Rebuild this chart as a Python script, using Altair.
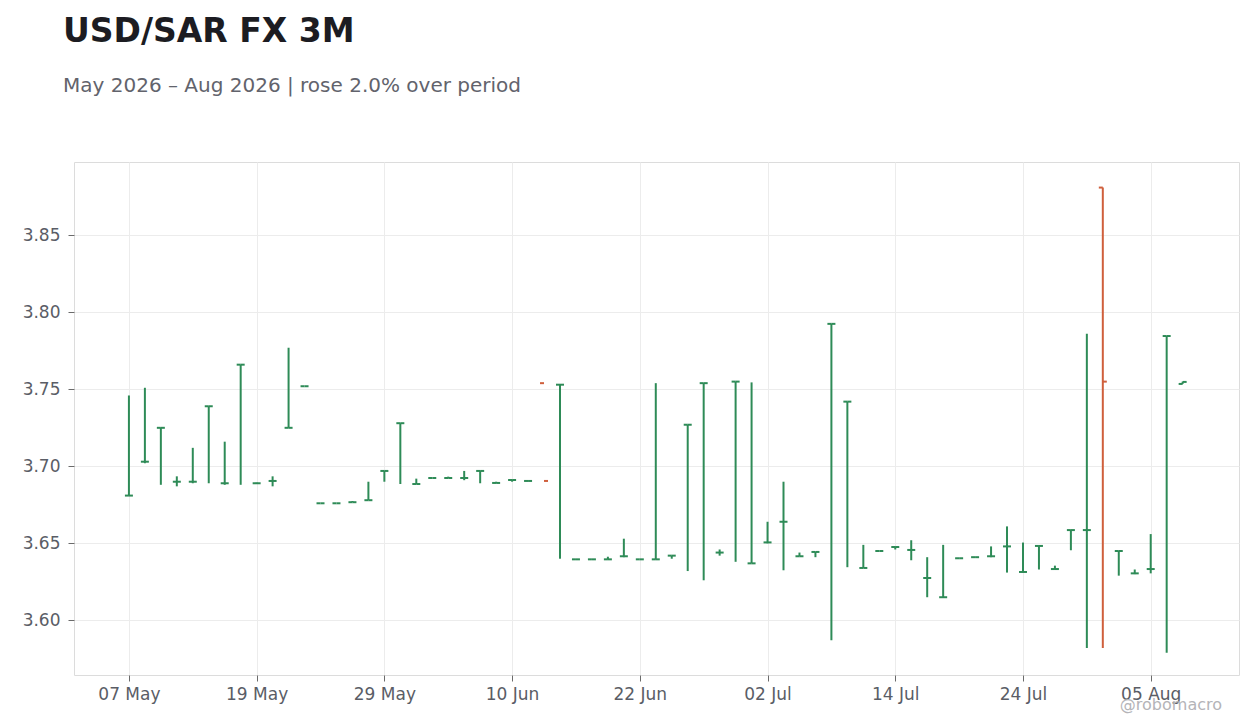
import altair as alt
import pandas as pd

# OHLC values per business day starting 07 May 2026
open_ = [3.681, 3.703, 3.725, 3.690, 3.690, 3.739, 3.689, 3.766, 3.689, 3.6905,
         3.725, 3.752, 3.676, 3.676, 3.6767, 3.678, 3.697, 3.728, 3.6885, 3.6924,
         3.6924, 3.6924, 3.697, 3.6892, 3.6911, 3.6905, 3.754, 3.753, 3.6396, 3.6396,
         3.6396, 3.6416, 3.6396, 3.6396, 3.642, 3.727, 3.754, 3.644, 3.755, 3.637,
         3.6506, 3.664, 3.6416, 3.6444, 3.7925, 3.742, 3.634, 3.645, 3.6476, 3.6457,
         3.6275, 3.615, 3.6403, 3.641, 3.6416, 3.648, 3.6314, 3.6483, 3.6333, 3.6586,
         3.6586, 3.881, 3.645, 3.6305, 3.6333, 3.7846, 3.7535]
high = [3.746, 3.751, 3.725, 3.6935, 3.712, 3.739, 3.716, 3.766, 3.6895, 3.6935,
        3.777, 3.752, 3.676, 3.676, 3.6775, 3.690, 3.697, 3.728, 3.692, 3.6924,
        3.6933, 3.697, 3.697, 3.690, 3.6911, 3.6905, 3.754, 3.753, 3.6396, 3.6396,
        3.6413, 3.653, 3.6396, 3.754, 3.642, 3.727, 3.754, 3.646, 3.755, 3.7545,
        3.664, 3.690, 3.644, 3.6445, 3.7925, 3.742, 3.649, 3.645, 3.648, 3.652,
        3.641, 3.649, 3.6403, 3.641, 3.648, 3.661, 3.6505, 3.6483, 3.6355, 3.6586,
        3.786, 3.881, 3.645, 3.633, 3.656, 3.7846, 3.755]
low = [3.681, 3.702, 3.688, 3.687, 3.689, 3.689, 3.688, 3.688, 3.6885, 3.687,
       3.725, 3.752, 3.676, 3.676, 3.6767, 3.678, 3.690, 3.6885, 3.6885, 3.6924,
       3.6924, 3.691, 3.689, 3.6892, 3.690, 3.6905, 3.754, 3.640, 3.6396, 3.6396,
       3.6396, 3.641, 3.6396, 3.6395, 3.640, 3.632, 3.626, 3.642, 3.638, 3.637,
       3.650, 3.6325, 3.6415, 3.641, 3.587, 3.6345, 3.634, 3.645, 3.646, 3.639,
       3.615, 3.6145, 3.6403, 3.641, 3.641, 3.631, 3.631, 3.633, 3.633, 3.6455,
       3.582, 3.582, 3.629, 3.630, 3.6305, 3.579, 3.7535]
close = [3.681, 3.703, 3.725, 3.690, 3.690, 3.739, 3.689, 3.766, 3.689, 3.6905,
         3.725, 3.752, 3.676, 3.676, 3.6767, 3.678, 3.697, 3.728, 3.6885, 3.6924,
         3.6924, 3.6924, 3.697, 3.6892, 3.6911, 3.6905, 3.6905, 3.753, 3.6396, 3.6396,
         3.6396, 3.6416, 3.6396, 3.6396, 3.642, 3.727, 3.754, 3.644, 3.755, 3.637,
         3.6506, 3.664, 3.6416, 3.6444, 3.7925, 3.742, 3.634, 3.645, 3.6476, 3.6457,
         3.6275, 3.615, 3.6403, 3.641, 3.6416, 3.648, 3.6314, 3.6483, 3.6333, 3.6586,
         3.6586, 3.755, 3.645, 3.6305, 3.6333, 3.7846, 3.7548]

tick_labels = ["07 May", "19 May", "29 May", "10 Jun", "22 Jun",
               "02 Jul", "14 Jul", "24 Jul", "05 Aug"]
y_ticks = [3.60, 3.65, 3.70, 3.75, 3.80, 3.85]

GREEN = "#2e8b57"
RED = "#cf5f3c"

dates = pd.bdate_range("2026-05-07", periods=len(open_))
df = pd.DataFrame({
    "idx": list(range(len(open_))),
    "date": dates.strftime("%d %b"),
    "open": open_, "high": high, "low": low, "close": close,
})
df["dir"] = ["up" if c >= o else "down" for o, c in zip(open_, close)]

W, H = 1165, 513
label_expr = "[" + ",".join("'%s'" % t for t in tick_labels) + "][round(datum.value/8)]"

xscale = alt.Scale(domain=[-3.44, 69.53], nice=False, zero=False)
yscale = alt.Scale(domain=[3.5645, 3.8976], nice=False, zero=False)
cscale = alt.Scale(domain=["up", "down"], range=[GREEN, RED])

xaxis = alt.Axis(values=[i * 8 for i in range(len(tick_labels))], labelExpr=label_expr,
                 title=None, grid=True)
yaxis = alt.Axis(values=y_ticks, format=".2f", title=None, grid=True)

base = alt.Chart(df)

hl = base.mark_rule(strokeWidth=2).encode(
    x=alt.X("idx:Q", scale=xscale, axis=xaxis),
    y=alt.Y("low:Q", scale=yscale, axis=yaxis),
    y2="high:Q",
    color=alt.Color("dir:N", scale=cscale, legend=None),
)
op = base.mark_rule(strokeWidth=2, xOffset=-4, x2Offset=0).encode(
    x="idx:Q", x2="idx:Q", y="open:Q",
    color=alt.Color("dir:N", scale=cscale, legend=None),
)
cl = base.mark_rule(strokeWidth=2, xOffset=0, x2Offset=4).encode(
    x="idx:Q", x2="idx:Q", y="close:Q",
    color=alt.Color("dir:N", scale=cscale, legend=None),
)
wm = alt.Chart(pd.DataFrame({"t": ["@robomacro"]})).mark_text(
    align="right", baseline="alphabetic", fontSize=16, color="#b4b4b8",
    font="DejaVu Sans"
).encode(text="t:N", x=alt.value(1148), y=alt.value(548))

chart = alt.layer(hl, op, cl, wm).properties(
    width=W, height=H,
    title=alt.TitleParams(
        text="USD/SAR FX 3M",
        subtitle="May 2026 – Aug 2026 | rose 2.0% over period",
        anchor="start", frame="group", dx=-11, offset=66,
        font="DejaVu Sans", fontSize=33, fontWeight="bold", color="#1c1c22",
        subtitleFont="DejaVu Sans", subtitleFontSize=20, subtitleColor="#62636c",
        subtitlePadding=27,
    ),
    autosize=alt.AutoSizeParams(type="none"),
    padding={"left": 66, "top": 154, "right": 13, "bottom": 45},
).configure_view(
    stroke="#dcdcdc", strokeWidth=1
).configure_axis(
    labelFont="DejaVu Sans", labelFontSize=17, labelColor="#5a5d66",
    tickColor="#6a6a6a", tickSize=6, domain=False,
    gridColor="#ececec", gridWidth=1,
).configure_axisY(labelPadding=8).configure_axisX(labelPadding=5)

chart.save("out.html", embed_options={"renderer": "svg", "actions": False})
